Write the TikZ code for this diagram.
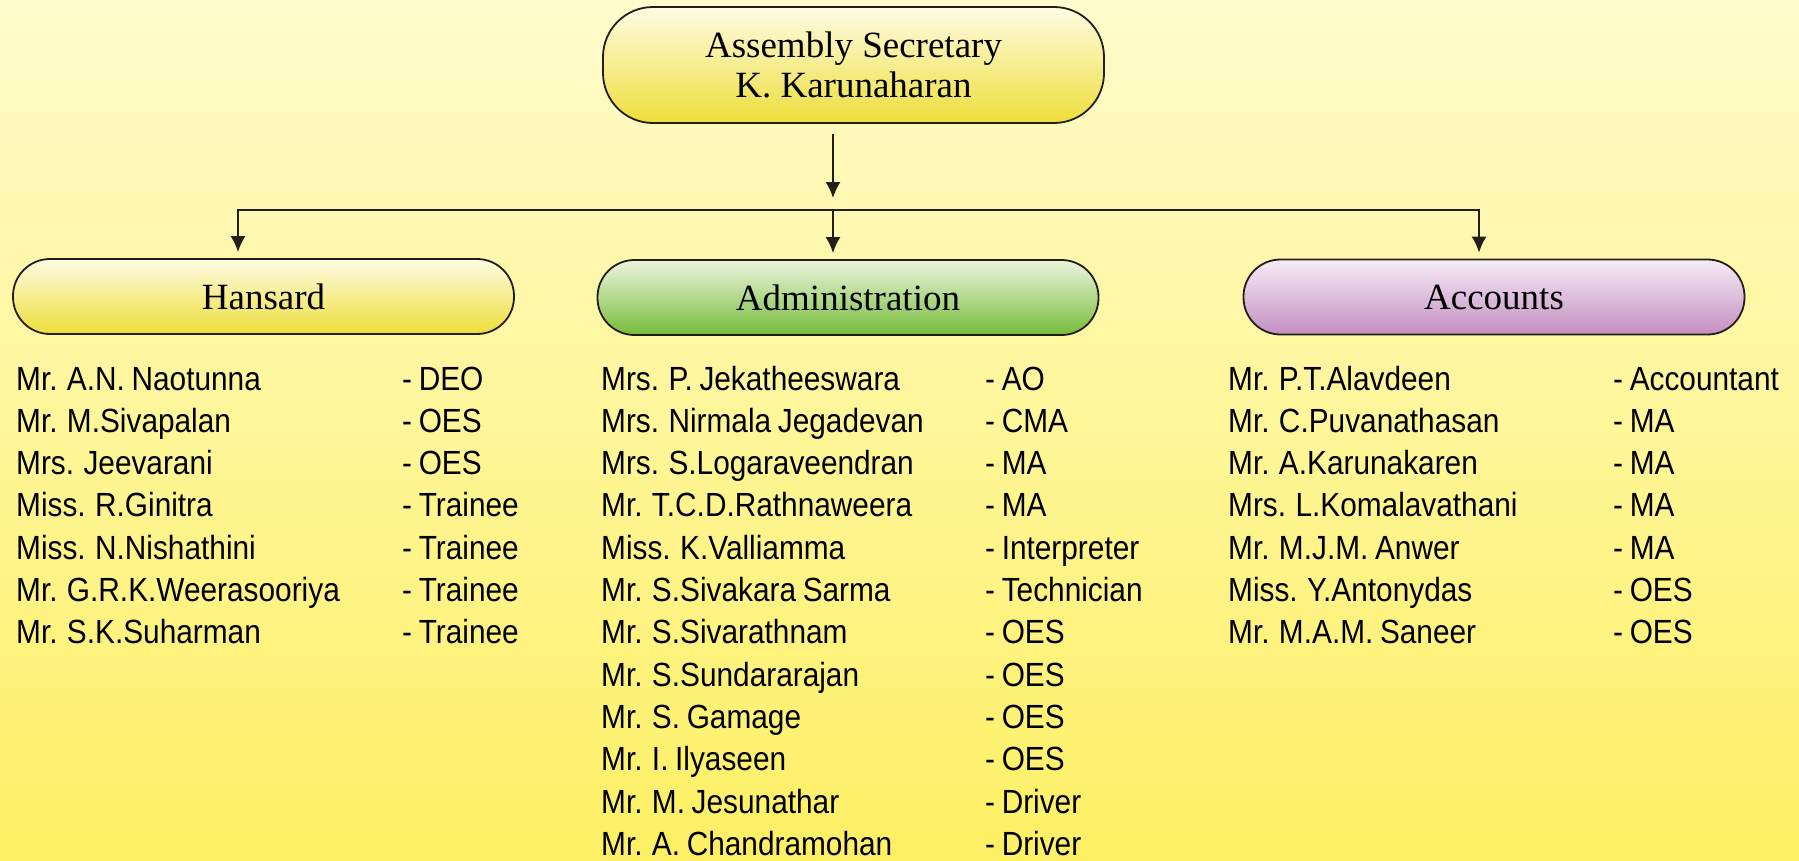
\documentclass[tikz,border=0pt]{standalone}
\usepackage{fontspec}
\setmainfont{Liberation Serif}
\newfontfamily\listfont[FakeStretch=0.89,WordSpace=0.8]{Liberation Sans}
\usetikzlibrary{arrows.meta,calc}

\definecolor{bgtop}{RGB}{255,251,204}
\definecolor{bgbot}{RGB}{253,240,100}
\definecolor{yeltop}{RGB}{254,252,228}
\definecolor{yelbot}{RGB}{238,222,58}
\definecolor{grntop}{RGB}{236,245,222}
\definecolor{grnbot}{RGB}{118,188,58}
\definecolor{purtop}{RGB}{246,236,246}
\definecolor{purbot}{RGB}{196,142,194}
\definecolor{edge}{RGB}{35,30,25}

\tikzset{
  unit/.style={draw=edge, line width=1.8pt, rounded corners=37pt,
    minimum width=501pt, minimum height=75pt, inner sep=0pt,
    font=\fontsize{37}{40}\selectfont},
  arr/.style={line width=1.8pt, draw=edge, -{Latex[length=16pt,width=15pt]}},
  staff/.style={anchor=base west, inner sep=0pt,
    font=\listfont\fontsize{33.5}{40}\selectfont},
}

\begin{document}
\begin{tikzpicture}[x=1pt,y=-1pt]
  % background
  \shade[top color=bgtop, bottom color=bgbot] (0,0) rectangle (1799,860);
  \useasboundingbox (0,0) rectangle (1799,860);

  % boxes
  \node[unit, top color=yeltop, bottom color=yelbot, minimum height=116pt,
    rounded corners=50pt, align=center] (boss) at (853.5,65)
    {Assembly Secretary\\K. Karunaharan};
  \node[unit, top color=yeltop, bottom color=yelbot] (hansard) at (263.5,296.5) {Hansard};
  \node[unit, top color=grntop, bottom color=grnbot] (admin) at (848,297.5) {Administration};
  \node[unit, top color=purtop, bottom color=purbot] (accounts) at (1494,297) {Accounts};

  % connectors
  \coordinate (bus) at (833,210);
  \coordinate (busL) at (238,210);
  \coordinate (busR) at (1479,210);
  \draw[arr] ($(boss.south -| bus)+(0,10)$) -- ($(bus)+(0,-12)$);
  \draw[arr, shorten >=6pt] (bus) -| (hansard.north -| busL);
  \draw[arr, shorten >=6pt] (bus) -| (accounts.north -| busR);
  \draw[arr, shorten >=6pt] (bus) -- (admin.north -| bus);

  % staff lists
  \foreach \who/\job [count=\i] in {Mr. A.N. Naotunna/DEO, Mr. M.Sivapalan/OES,
      Mrs. Jeevarani/OES, Miss. R.Ginitra/Trainee, Miss. N.Nishathini/Trainee,
      Mr. G.R.K.Weerasooriya/Trainee, Mr. S.K.Suharman/Trainee} {
    \node[staff] (hname\i) at (16,{390+42.3*(\i-1)}) {\who};
    \node[staff] (hjob\i) at (402,{390+42.3*(\i-1)}) {- \job};
  }
  \foreach \who/\job [count=\i] in {Mrs. P. Jekatheeswara/AO,
      Mrs. Nirmala Jegadevan/CMA, Mrs. S.Logaraveendran/MA,
      Mr. T.C.D.Rathnaweera/MA, Miss. K.Valliamma/Interpreter,
      Mr. S.Sivakara Sarma/Technician, Mr. S.Sivarathnam/OES,
      Mr. S.Sundararajan/OES, Mr. S. Gamage/OES, Mr. I. Ilyaseen/OES,
      Mr. M. Jesunathar/Driver, Mr. A. Chandramohan/Driver} {
    \node[staff] (aname\i) at (601,{390+42.3*(\i-1)}) {\who};
    \node[staff] (ajob\i) at (985,{390+42.3*(\i-1)}) {- \job};
  }
  \foreach \who/\job [count=\i] in {Mr. P.T.Alavdeen/Accountant,
      Mr. C.Puvanathasan/MA, Mr. A.Karunakaren/MA, Mrs. L.Komalavathani/MA,
      Mr. M.J.M. Anwer/MA, Miss. Y.Antonydas/OES, Mr. M.A.M. Saneer/OES} {
    \node[staff] (cname\i) at (1228,{390+42.3*(\i-1)}) {\who};
    \node[staff] (cjob\i) at (1613,{390+42.3*(\i-1)}) {- \job};
  }
\end{tikzpicture}
\end{document}
